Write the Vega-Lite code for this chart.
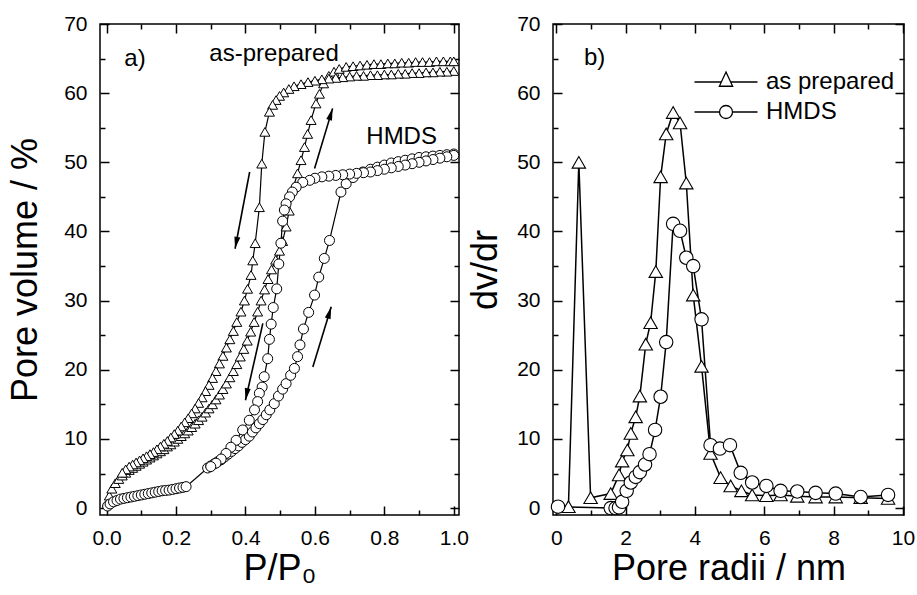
{
"$schema": "https://vega.github.io/schema/vega-lite/v6.json",
"padding": {"left": 6, "top": 12, "right": 0, "bottom": 2},
"config": {
  "view": {"stroke": "black", "strokeWidth": 1.5},
  "font": "Liberation Sans",
  "axis": {"domain": false, "grid": false, "tickColor": "black", "tickWidth": 1.5, "labelColor": "black", "titleColor": "black", "labelFont": "Liberation Sans", "titleFont": "Liberation Sans", "labelFontSize": 21, "titleFontSize": 36, "titleFontWeight": "normal", "labelFlush": false, "labelOverlap": false}
},
"datasets": {
  "iso": [
    {"s":"as prepared","b":"a","p":0.003,"v":0.8},{"s":"as prepared","b":"a","p":0.008,"v":1.8},{"s":"as prepared","b":"a","p":0.015,"v":2.8},{"s":"as prepared","b":"a","p":0.025,"v":3.6},{"s":"as prepared","b":"a","p":0.035,"v":4.2},{"s":"as prepared","b":"a","p":0.045,"v":4.7},{"s":"as prepared","b":"a","p":0.055,"v":5.1},{"s":"as prepared","b":"a","p":0.065,"v":5.5},{"s":"as prepared","b":"a","p":0.075,"v":5.8},{"s":"as prepared","b":"a","p":0.085,"v":6.1},{"s":"as prepared","b":"a","p":0.095,"v":6.4},{"s":"as prepared","b":"a","p":0.105,"v":6.7},{"s":"as prepared","b":"a","p":0.115,"v":7.0},{"s":"as prepared","b":"a","p":0.125,"v":7.3},{"s":"as prepared","b":"a","p":0.135,"v":7.6},{"s":"as prepared","b":"a","p":0.145,"v":7.9},{"s":"as prepared","b":"a","p":0.155,"v":8.2},{"s":"as prepared","b":"a","p":0.165,"v":8.5},{"s":"as prepared","b":"a","p":0.175,"v":8.9},{"s":"as prepared","b":"a","p":0.185,"v":9.2},{"s":"as prepared","b":"a","p":0.195,"v":9.6},{"s":"as prepared","b":"a","p":0.205,"v":10.0},{"s":"as prepared","b":"a","p":0.215,"v":10.4},{"s":"as prepared","b":"a","p":0.225,"v":10.8},{"s":"as prepared","b":"a","p":0.235,"v":11.2},{"s":"as prepared","b":"a","p":0.245,"v":11.7},{"s":"as prepared","b":"a","p":0.255,"v":12.2},{"s":"as prepared","b":"a","p":0.265,"v":12.7},{"s":"as prepared","b":"a","p":0.275,"v":13.2},{"s":"as prepared","b":"a","p":0.285,"v":13.8},{"s":"as prepared","b":"a","p":0.295,"v":14.4},{"s":"as prepared","b":"a","p":0.305,"v":15.0},{"s":"as prepared","b":"a","p":0.315,"v":15.7},{"s":"as prepared","b":"a","p":0.325,"v":16.4},{"s":"as prepared","b":"a","p":0.335,"v":17.2},{"s":"as prepared","b":"a","p":0.345,"v":18.0},{"s":"as prepared","b":"a","p":0.355,"v":18.9},{"s":"as prepared","b":"a","p":0.365,"v":19.8},{"s":"as prepared","b":"a","p":0.375,"v":20.8},{"s":"as prepared","b":"a","p":0.385,"v":21.9},{"s":"as prepared","b":"a","p":0.395,"v":23.0},{"s":"as prepared","b":"a","p":0.405,"v":24.2},{"s":"as prepared","b":"a","p":0.415,"v":25.5},{"s":"as prepared","b":"a","p":0.425,"v":26.9},{"s":"as prepared","b":"a","p":0.435,"v":28.4},{"s":"as prepared","b":"a","p":0.445,"v":30.0},{"s":"as prepared","b":"a","p":0.455,"v":31.6},{"s":"as prepared","b":"a","p":0.465,"v":33.1},{"s":"as prepared","b":"a","p":0.475,"v":34.5},{"s":"as prepared","b":"a","p":0.487,"v":35.9},{"s":"as prepared","b":"a","p":0.498,"v":37.2},{"s":"as prepared","b":"a","p":0.507,"v":38.6},{"s":"as prepared","b":"a","p":0.517,"v":40.7},{"s":"as prepared","b":"a","p":0.526,"v":43.0},{"s":"as prepared","b":"a","p":0.538,"v":46.4},{"s":"as prepared","b":"a","p":0.55,"v":48.4},{"s":"as prepared","b":"a","p":0.56,"v":50.3},{"s":"as prepared","b":"a","p":0.57,"v":52.2},{"s":"as prepared","b":"a","p":0.579,"v":54.1},{"s":"as prepared","b":"a","p":0.589,"v":56.1},{"s":"as prepared","b":"a","p":0.603,"v":58.5},{"s":"as prepared","b":"a","p":0.613,"v":59.9},{"s":"as prepared","b":"a","p":0.625,"v":61.4},{"s":"as prepared","b":"a","p":0.64,"v":62.5},{"s":"as prepared","b":"a","p":0.655,"v":63.1},{"s":"as prepared","b":"a","p":0.67,"v":63.5},{"s":"as prepared","b":"a","p":0.69,"v":63.8},{"s":"as prepared","b":"a","p":0.71,"v":63.9},{"s":"as prepared","b":"a","p":0.73,"v":64.0},{"s":"as prepared","b":"a","p":0.75,"v":64.1},{"s":"as prepared","b":"a","p":0.77,"v":64.2},{"s":"as prepared","b":"a","p":0.79,"v":64.2},{"s":"as prepared","b":"a","p":0.81,"v":64.3},{"s":"as prepared","b":"a","p":0.83,"v":64.3},{"s":"as prepared","b":"a","p":0.85,"v":64.4},{"s":"as prepared","b":"a","p":0.87,"v":64.4},{"s":"as prepared","b":"a","p":0.89,"v":64.5},{"s":"as prepared","b":"a","p":0.91,"v":64.5},{"s":"as prepared","b":"a","p":0.93,"v":64.5},{"s":"as prepared","b":"a","p":0.95,"v":64.6},{"s":"as prepared","b":"a","p":0.97,"v":64.6},{"s":"as prepared","b":"a","p":0.99,"v":64.6},{"s":"as prepared","b":"a","p":1.0,"v":64.6},
    {"s":"as prepared","b":"d","p":1.0,"v":63.2},{"s":"as prepared","b":"d","p":0.98,"v":63.1},{"s":"as prepared","b":"d","p":0.96,"v":63.1},{"s":"as prepared","b":"d","p":0.94,"v":63.0},{"s":"as prepared","b":"d","p":0.92,"v":63.0},{"s":"as prepared","b":"d","p":0.9,"v":62.9},{"s":"as prepared","b":"d","p":0.88,"v":62.9},{"s":"as prepared","b":"d","p":0.86,"v":62.8},{"s":"as prepared","b":"d","p":0.84,"v":62.8},{"s":"as prepared","b":"d","p":0.82,"v":62.7},{"s":"as prepared","b":"d","p":0.8,"v":62.7},{"s":"as prepared","b":"d","p":0.78,"v":62.6},{"s":"as prepared","b":"d","p":0.76,"v":62.6},{"s":"as prepared","b":"d","p":0.74,"v":62.5},{"s":"as prepared","b":"d","p":0.72,"v":62.5},{"s":"as prepared","b":"d","p":0.7,"v":62.4},{"s":"as prepared","b":"d","p":0.68,"v":62.3},{"s":"as prepared","b":"d","p":0.66,"v":62.2},{"s":"as prepared","b":"d","p":0.64,"v":62.1},{"s":"as prepared","b":"d","p":0.62,"v":62.0},{"s":"as prepared","b":"d","p":0.6,"v":61.8},{"s":"as prepared","b":"d","p":0.58,"v":61.6},{"s":"as prepared","b":"d","p":0.56,"v":61.3},{"s":"as prepared","b":"d","p":0.54,"v":61.0},{"s":"as prepared","b":"d","p":0.525,"v":60.6},{"s":"as prepared","b":"d","p":0.51,"v":60.1},{"s":"as prepared","b":"d","p":0.498,"v":59.6},{"s":"as prepared","b":"d","p":0.488,"v":59.0},{"s":"as prepared","b":"d","p":0.478,"v":58.3},{"s":"as prepared","b":"d","p":0.469,"v":57.3},{"s":"as prepared","b":"d","p":0.456,"v":54.4},{"s":"as prepared","b":"d","p":0.447,"v":49.8},{"s":"as prepared","b":"d","p":0.44,"v":43.5},{"s":"as prepared","b":"d","p":0.428,"v":38.3},{"s":"as prepared","b":"d","p":0.421,"v":35.8},{"s":"as prepared","b":"d","p":0.416,"v":33.7},{"s":"as prepared","b":"d","p":0.406,"v":31.7},{"s":"as prepared","b":"d","p":0.397,"v":30.0},{"s":"as prepared","b":"d","p":0.387,"v":28.4},{"s":"as prepared","b":"d","p":0.375,"v":26.9},{"s":"as prepared","b":"d","p":0.365,"v":25.6},{"s":"as prepared","b":"d","p":0.355,"v":24.4},{"s":"as prepared","b":"d","p":0.345,"v":23.2},{"s":"as prepared","b":"d","p":0.335,"v":22.0},{"s":"as prepared","b":"d","p":0.325,"v":20.9},{"s":"as prepared","b":"d","p":0.315,"v":19.8},{"s":"as prepared","b":"d","p":0.305,"v":18.8},{"s":"as prepared","b":"d","p":0.295,"v":17.8},{"s":"as prepared","b":"d","p":0.285,"v":16.9},{"s":"as prepared","b":"d","p":0.275,"v":16.0},{"s":"as prepared","b":"d","p":0.265,"v":15.2},{"s":"as prepared","b":"d","p":0.255,"v":14.4},{"s":"as prepared","b":"d","p":0.245,"v":13.7},{"s":"as prepared","b":"d","p":0.235,"v":13.0},{"s":"as prepared","b":"d","p":0.225,"v":12.4},{"s":"as prepared","b":"d","p":0.215,"v":11.8},{"s":"as prepared","b":"d","p":0.205,"v":11.2},{"s":"as prepared","b":"d","p":0.195,"v":10.7},{"s":"as prepared","b":"d","p":0.185,"v":10.2},{"s":"as prepared","b":"d","p":0.175,"v":9.7},{"s":"as prepared","b":"d","p":0.165,"v":9.3},{"s":"as prepared","b":"d","p":0.155,"v":8.9},{"s":"as prepared","b":"d","p":0.145,"v":8.5},{"s":"as prepared","b":"d","p":0.135,"v":8.1},{"s":"as prepared","b":"d","p":0.125,"v":7.8},{"s":"as prepared","b":"d","p":0.115,"v":7.5},{"s":"as prepared","b":"d","p":0.105,"v":7.2},{"s":"as prepared","b":"d","p":0.095,"v":6.9},{"s":"as prepared","b":"d","p":0.085,"v":6.6},{"s":"as prepared","b":"d","p":0.075,"v":6.3},{"s":"as prepared","b":"d","p":0.065,"v":6.0},{"s":"as prepared","b":"d","p":0.055,"v":5.6},{"s":"as prepared","b":"d","p":0.045,"v":5.1},
    {"s":"HMDS","b":"a","p":0.003,"v":0.3},{"s":"HMDS","b":"a","p":0.01,"v":0.6},{"s":"HMDS","b":"a","p":0.02,"v":0.9},{"s":"HMDS","b":"a","p":0.03,"v":1.1},{"s":"HMDS","b":"a","p":0.04,"v":1.3},{"s":"HMDS","b":"a","p":0.05,"v":1.4},{"s":"HMDS","b":"a","p":0.06,"v":1.5},{"s":"HMDS","b":"a","p":0.07,"v":1.6},{"s":"HMDS","b":"a","p":0.08,"v":1.7},{"s":"HMDS","b":"a","p":0.09,"v":1.8},{"s":"HMDS","b":"a","p":0.1,"v":1.9},{"s":"HMDS","b":"a","p":0.11,"v":2.0},{"s":"HMDS","b":"a","p":0.12,"v":2.1},{"s":"HMDS","b":"a","p":0.13,"v":2.2},{"s":"HMDS","b":"a","p":0.14,"v":2.3},{"s":"HMDS","b":"a","p":0.15,"v":2.4},{"s":"HMDS","b":"a","p":0.16,"v":2.5},{"s":"HMDS","b":"a","p":0.17,"v":2.55},{"s":"HMDS","b":"a","p":0.18,"v":2.6},{"s":"HMDS","b":"a","p":0.19,"v":2.7},{"s":"HMDS","b":"a","p":0.2,"v":2.8},{"s":"HMDS","b":"a","p":0.21,"v":2.9},{"s":"HMDS","b":"a","p":0.22,"v":3.0},{"s":"HMDS","b":"a","p":0.229,"v":3.1},{"s":"HMDS","b":"a","p":0.291,"v":5.8},{"s":"HMDS","b":"a","p":0.3,"v":6.1},{"s":"HMDS","b":"a","p":0.31,"v":6.4},{"s":"HMDS","b":"a","p":0.32,"v":6.7},{"s":"HMDS","b":"a","p":0.33,"v":7.0},{"s":"HMDS","b":"a","p":0.34,"v":7.4},{"s":"HMDS","b":"a","p":0.35,"v":7.8},{"s":"HMDS","b":"a","p":0.36,"v":8.2},{"s":"HMDS","b":"a","p":0.37,"v":8.6},{"s":"HMDS","b":"a","p":0.38,"v":9.0},{"s":"HMDS","b":"a","p":0.39,"v":9.5},{"s":"HMDS","b":"a","p":0.4,"v":9.9},{"s":"HMDS","b":"a","p":0.411,"v":10.4},{"s":"HMDS","b":"a","p":0.42,"v":11.0},{"s":"HMDS","b":"a","p":0.43,"v":11.6},{"s":"HMDS","b":"a","p":0.44,"v":12.2},{"s":"HMDS","b":"a","p":0.45,"v":12.8},{"s":"HMDS","b":"a","p":0.46,"v":13.5},{"s":"HMDS","b":"a","p":0.47,"v":14.2},{"s":"HMDS","b":"a","p":0.483,"v":15.1},{"s":"HMDS","b":"a","p":0.495,"v":16.2},{"s":"HMDS","b":"a","p":0.507,"v":17.2},{"s":"HMDS","b":"a","p":0.517,"v":18.0},{"s":"HMDS","b":"a","p":0.53,"v":19.2},{"s":"HMDS","b":"a","p":0.541,"v":20.2},{"s":"HMDS","b":"a","p":0.55,"v":21.9},{"s":"HMDS","b":"a","p":0.557,"v":23.6},{"s":"HMDS","b":"a","p":0.567,"v":25.9},{"s":"HMDS","b":"a","p":0.582,"v":28.3},{"s":"HMDS","b":"a","p":0.599,"v":30.8},{"s":"HMDS","b":"a","p":0.611,"v":33.4},{"s":"HMDS","b":"a","p":0.627,"v":36.1},{"s":"HMDS","b":"a","p":0.642,"v":38.7},{"s":"HMDS","b":"a","p":0.675,"v":45.7},{"s":"HMDS","b":"a","p":0.69,"v":46.9},{"s":"HMDS","b":"a","p":0.71,"v":47.8},{"s":"HMDS","b":"a","p":0.738,"v":48.6},{"s":"HMDS","b":"a","p":0.76,"v":49.0},{"s":"HMDS","b":"a","p":0.78,"v":49.3},{"s":"HMDS","b":"a","p":0.8,"v":49.6},{"s":"HMDS","b":"a","p":0.82,"v":49.9},{"s":"HMDS","b":"a","p":0.84,"v":50.1},{"s":"HMDS","b":"a","p":0.86,"v":50.3},{"s":"HMDS","b":"a","p":0.88,"v":50.5},{"s":"HMDS","b":"a","p":0.9,"v":50.7},{"s":"HMDS","b":"a","p":0.92,"v":50.8},{"s":"HMDS","b":"a","p":0.94,"v":50.9},{"s":"HMDS","b":"a","p":0.96,"v":51.0},{"s":"HMDS","b":"a","p":0.98,"v":51.1},{"s":"HMDS","b":"a","p":1.0,"v":51.2},
    {"s":"HMDS","b":"d","p":1.0,"v":51.0},{"s":"HMDS","b":"d","p":0.98,"v":50.8},{"s":"HMDS","b":"d","p":0.96,"v":50.6},{"s":"HMDS","b":"d","p":0.94,"v":50.4},{"s":"HMDS","b":"d","p":0.92,"v":50.2},{"s":"HMDS","b":"d","p":0.9,"v":50.0},{"s":"HMDS","b":"d","p":0.88,"v":49.8},{"s":"HMDS","b":"d","p":0.86,"v":49.6},{"s":"HMDS","b":"d","p":0.84,"v":49.4},{"s":"HMDS","b":"d","p":0.82,"v":49.2},{"s":"HMDS","b":"d","p":0.8,"v":49.0},{"s":"HMDS","b":"d","p":0.78,"v":48.8},{"s":"HMDS","b":"d","p":0.76,"v":48.6},{"s":"HMDS","b":"d","p":0.74,"v":48.5},{"s":"HMDS","b":"d","p":0.72,"v":48.4},{"s":"HMDS","b":"d","p":0.7,"v":48.3},{"s":"HMDS","b":"d","p":0.68,"v":48.2},{"s":"HMDS","b":"d","p":0.66,"v":48.1},{"s":"HMDS","b":"d","p":0.64,"v":48.0},{"s":"HMDS","b":"d","p":0.62,"v":47.9},{"s":"HMDS","b":"d","p":0.6,"v":47.7},{"s":"HMDS","b":"d","p":0.585,"v":47.4},{"s":"HMDS","b":"d","p":0.565,"v":47.1},{"s":"HMDS","b":"d","p":0.546,"v":46.4},{"s":"HMDS","b":"d","p":0.535,"v":45.7},{"s":"HMDS","b":"d","p":0.527,"v":45.0},{"s":"HMDS","b":"d","p":0.517,"v":44.0},{"s":"HMDS","b":"d","p":0.512,"v":43.1},{"s":"HMDS","b":"d","p":0.507,"v":41.5},{"s":"HMDS","b":"d","p":0.502,"v":38.3},{"s":"HMDS","b":"d","p":0.496,"v":35.3},{"s":"HMDS","b":"d","p":0.49,"v":31.7},{"s":"HMDS","b":"d","p":0.48,"v":29.0},{"s":"HMDS","b":"d","p":0.474,"v":26.6},{"s":"HMDS","b":"d","p":0.469,"v":24.4},{"s":"HMDS","b":"d","p":0.464,"v":21.6},{"s":"HMDS","b":"d","p":0.454,"v":19.0},{"s":"HMDS","b":"d","p":0.448,"v":17.5},{"s":"HMDS","b":"d","p":0.44,"v":16.6},{"s":"HMDS","b":"d","p":0.435,"v":15.4},{"s":"HMDS","b":"d","p":0.426,"v":14.2},{"s":"HMDS","b":"d","p":0.411,"v":12.7},{"s":"HMDS","b":"d","p":0.392,"v":11.3},{"s":"HMDS","b":"d","p":0.373,"v":9.8},{"s":"HMDS","b":"d","p":0.358,"v":8.8},{"s":"HMDS","b":"d","p":0.344,"v":7.9},{"s":"HMDS","b":"d","p":0.33,"v":7.1},{"s":"HMDS","b":"d","p":0.315,"v":6.5},{"s":"HMDS","b":"d","p":0.3,"v":6.0}
  ],
  "psd": [
    {"s":"as prepared","r":0.35,"d":0.2},{"s":"as prepared","r":0.65,"d":50.0},{"s":"as prepared","r":0.99,"d":1.5},{"s":"as prepared","r":1.57,"d":2.1},{"s":"as prepared","r":1.81,"d":4.8},{"s":"as prepared","r":1.9,"d":6.8},{"s":"as prepared","r":2.05,"d":8.4},{"s":"as prepared","r":2.15,"d":10.8},{"s":"as prepared","r":2.29,"d":13.2},{"s":"as prepared","r":2.41,"d":16.2},{"s":"as prepared","r":2.58,"d":23.7},{"s":"as prepared","r":2.72,"d":26.8},{"s":"as prepared","r":2.87,"d":34.2},{"s":"as prepared","r":3.01,"d":47.9},{"s":"as prepared","r":3.17,"d":54.1},{"s":"as prepared","r":3.37,"d":57.2},{"s":"as prepared","r":3.57,"d":55.7},{"s":"as prepared","r":3.75,"d":47.0},{"s":"as prepared","r":3.95,"d":30.8},{"s":"as prepared","r":4.19,"d":20.5},{"s":"as prepared","r":4.45,"d":7.9},{"s":"as prepared","r":4.74,"d":4.4},{"s":"as prepared","r":5.03,"d":3.2},{"s":"as prepared","r":5.34,"d":2.5},{"s":"as prepared","r":5.65,"d":1.9},{"s":"as prepared","r":6.06,"d":1.8},{"s":"as prepared","r":6.47,"d":1.9},{"s":"as prepared","r":6.95,"d":1.7},{"s":"as prepared","r":7.48,"d":1.6},{"s":"as prepared","r":8.06,"d":1.6},{"s":"as prepared","r":8.78,"d":1.5},{"s":"as prepared","r":9.57,"d":1.4},
    {"s":"HMDS","r":0.05,"d":0.2},{"s":"HMDS","r":1.57,"d":0.0},{"s":"HMDS","r":1.71,"d":0.0},{"s":"HMDS","r":1.81,"d":0.1},{"s":"HMDS","r":1.9,"d":0.9},{"s":"HMDS","r":2.03,"d":2.5},{"s":"HMDS","r":2.15,"d":3.7},{"s":"HMDS","r":2.29,"d":4.5},{"s":"HMDS","r":2.41,"d":5.2},{"s":"HMDS","r":2.56,"d":6.3},{"s":"HMDS","r":2.69,"d":7.8},{"s":"HMDS","r":2.85,"d":11.3},{"s":"HMDS","r":3.01,"d":16.1},{"s":"HMDS","r":3.17,"d":24.0},{"s":"HMDS","r":3.37,"d":41.1},{"s":"HMDS","r":3.57,"d":40.1},{"s":"HMDS","r":3.75,"d":36.2},{"s":"HMDS","r":3.95,"d":35.0},{"s":"HMDS","r":4.19,"d":27.3},{"s":"HMDS","r":4.45,"d":9.1},{"s":"HMDS","r":4.72,"d":8.6},{"s":"HMDS","r":5.01,"d":9.1},{"s":"HMDS","r":5.32,"d":5.1},{"s":"HMDS","r":5.65,"d":3.7},{"s":"HMDS","r":6.06,"d":3.2},{"s":"HMDS","r":6.47,"d":2.5},{"s":"HMDS","r":6.95,"d":2.4},{"s":"HMDS","r":7.48,"d":2.2},{"s":"HMDS","r":8.06,"d":2.1},{"s":"HMDS","r":8.78,"d":1.6},{"s":"HMDS","r":9.57,"d":1.9}
  ],
  "arrows": [
    {"x":0.412,"y":48.6,"x2":0.37,"y2":37.5,"dir":"down"},
    {"x":0.599,"y":49.1,"x2":0.651,"y2":57.8,"dir":"up"},
    {"x":0.45,"y":26.7,"x2":0.4,"y2":15.6,"dir":"down"},
    {"x":0.594,"y":20.4,"x2":0.647,"y2":29.1,"dir":"up"}
  ],
  "lblA": [
    {"x":0.051,"y":65.0,"t":"a)"},
    {"x":0.296,"y":65.7,"t":"as-prepared"},
    {"x":0.748,"y":53.7,"t":"HMDS"}
  ],
  "lblB": [
    {"x":0.8,"y":65.1,"t":"b)"}
  ]
},
"hconcat": [
  {
    "width": 359, "height": 491,
    "resolve": {"axis": {"x": "independent", "y": "independent"}},
    "layer": [
      {
        "data": {"name": "iso"},
        "mark": {"type": "line", "color": "black", "strokeWidth": 1.2},
        "encoding": {
          "x": {"field": "p", "type": "quantitative", "scale": {"domain": [-0.019, 1.015], "nice": false, "zero": false},
                "axis": {"orient": "bottom", "values": [0, 0.2, 0.4, 0.6, 0.8, 1.0], "format": ".1f", "tickSize": -9, "labelPadding": 21, "title": "P/P₀", "titlePadding": 3}},
          "y": {"field": "v", "type": "quantitative", "scale": {"domain": [-1, 70], "nice": false, "zero": false},
                "axis": {"orient": "left", "values": [0, 10, 20, 30, 40, 50, 60, 70], "tickSize": -9, "labelPadding": 22, "title": "Pore volume / %", "titlePadding": 19}},
          "detail": [{"field": "s"}, {"field": "b"}]
        }
      },
      {
        "data": {"name": "iso"},
        "mark": {"type": "point", "filled": true, "fill": "white", "stroke": "black", "strokeWidth": 1, "opacity": 1, "size": 100},
        "encoding": {
          "x": {"field": "p", "type": "quantitative", "scale": {"domain": [-0.019, 1.015], "nice": false, "zero": false},
                "axis": {"orient": "bottom", "values": [0.1, 0.3, 0.5, 0.7, 0.9], "tickSize": -5, "labels": false, "title": null}},
          "y": {"field": "v", "type": "quantitative", "scale": {"domain": [-1, 70], "nice": false, "zero": false},
                "axis": {"orient": "left", "values": [5, 15, 25, 35, 45, 55, 65], "tickSize": -5, "labels": false, "title": null}},
          "shape": {"field": "s", "type": "nominal", "scale": {"domain": ["as prepared", "HMDS"], "range": ["triangle-up", "circle"]}, "legend": null}
        }
      },
      {
        "data": {"name": "arrows"},
        "mark": {"type": "rule", "color": "black", "strokeWidth": 1.6},
        "encoding": {
          "x": {"field": "x", "type": "quantitative", "axis": {"orient": "top", "values": [0, 0.2, 0.4, 0.6, 0.8, 1.0], "tickSize": -9, "labels": false, "title": null}},
          "y": {"field": "y", "type": "quantitative", "axis": {"orient": "right", "values": [0, 10, 20, 30, 40, 50, 60, 70], "tickSize": -9, "labels": false, "title": null}},
          "x2": {"field": "x2"},
          "y2": {"field": "y2"}
        }
      },
      {
        "data": {"name": "arrows"},
        "transform": [{"filter": "datum.dir == 'up'"}],
        "mark": {"type": "point", "shape": "M0,0L0.4,1.6L-0.4,1.6Z", "filled": true, "color": "black", "opacity": 1, "size": 225, "angle": 17},
        "encoding": {
          "x": {"field": "x2", "type": "quantitative", "axis": {"orient": "top", "values": [0.1, 0.3, 0.5, 0.7, 0.9], "tickSize": -5, "labels": false, "title": null}},
          "y": {"field": "y2", "type": "quantitative", "axis": {"orient": "right", "values": [5, 15, 25, 35, 45, 55, 65], "tickSize": -5, "labels": false, "title": null}}
        }
      },
      {
        "data": {"name": "arrows"},
        "transform": [{"filter": "datum.dir == 'down'"}],
        "mark": {"type": "point", "shape": "M0,0L0.4,1.6L-0.4,1.6Z", "filled": true, "color": "black", "opacity": 1, "size": 225, "angle": 191},
        "encoding": {
          "x": {"field": "x2", "type": "quantitative", "axis": null},
          "y": {"field": "y2", "type": "quantitative", "axis": null}
        }
      },
      {
        "data": {"name": "lblA"},
        "mark": {"type": "text", "font": "Liberation Sans", "fontSize": 24, "align": "left", "baseline": "middle", "color": "black"},
        "encoding": {
          "x": {"field": "x", "type": "quantitative", "axis": null},
          "y": {"field": "y", "type": "quantitative", "axis": null},
          "text": {"field": "t"}
        }
      }
    ]
  },
  {
    "width": 351, "height": 491,
    "resolve": {"axis": {"x": "independent", "y": "independent"}, "scale": {"shape": "independent"}},
    "layer": [
      {
        "data": {"name": "psd"},
        "mark": {"type": "line", "color": "black", "strokeWidth": 1.5},
        "encoding": {
          "x": {"field": "r", "type": "quantitative", "scale": {"domain": [-0.095, 10.03], "nice": false, "zero": false},
                "axis": {"orient": "bottom", "values": [0, 2, 4, 6, 8, 10], "tickSize": -9, "labelPadding": 21, "title": "Pore radii / nm", "titlePadding": 3}},
          "y": {"field": "d", "type": "quantitative", "scale": {"domain": [-1, 70], "nice": false, "zero": false},
                "axis": {"orient": "left", "values": [0, 10, 20, 30, 40, 50, 60, 70], "tickSize": -9, "labelPadding": 22, "title": "dv/dr", "titlePadding": 12}},
          "detail": {"field": "s"}
        }
      },
      {
        "data": {"name": "psd"},
        "mark": {"type": "point", "filled": true, "fill": "white", "stroke": "black", "strokeWidth": 1.1, "opacity": 1, "size": 180},
        "encoding": {
          "x": {"field": "r", "type": "quantitative", "scale": {"domain": [-0.095, 10.03], "nice": false, "zero": false},
                "axis": {"orient": "bottom", "values": [1, 3, 5, 7, 9], "tickSize": -5, "labels": false, "title": null}},
          "y": {"field": "d", "type": "quantitative", "scale": {"domain": [-1, 70], "nice": false, "zero": false},
                "axis": {"orient": "left", "values": [5, 15, 25, 35, 45, 55, 65], "tickSize": -5, "labels": false, "title": null}},
          "shape": {"field": "s", "type": "nominal", "scale": {"domain": ["as prepared", "HMDS"], "range": ["triangle-up", "circle"]}, "legend": null}
        }
      },
      {
        "data": {"name": "psd"},
        "transform": [{"filter": "false"}],
        "mark": {"type": "point", "filled": false, "color": "black", "stroke": "black", "strokeWidth": 1.3, "opacity": 1, "size": 196},
        "encoding": {
          "x": {"field": "r", "type": "quantitative", "axis": null},
          "y": {"field": "d", "type": "quantitative", "axis": null},
          "shape": {"field": "s", "type": "nominal",
                    "scale": {"domain": ["as prepared", "HMDS"], "range": ["M-4.5,0L-0.666,0M0.666,0L4.5,0M0,-1.43L0.95,0.61L-0.95,0.61Z", "M-4.5,0L-0.93,0M0.93,0L4.5,0M0.93,0A0.93,0.93,0,1,1,-0.93,0A0.93,0.93,0,1,1,0.93,0Z"]},
                    "legend": {"orient": "none", "legendX": 161, "legendY": 46, "title": null, "padding": 0, "symbolSize": 196, "symbolStrokeWidth": 1.3, "symbolStrokeColor": "black", "symbolOpacity": 1, "labelFontSize": 24, "labelFont": "Liberation Sans", "labelColor": "black", "labelOffset": 28, "rowPadding": 6}}
        }
      },
      {
        "data": {"name": "lblB"},
        "mark": {"type": "text", "font": "Liberation Sans", "fontSize": 24, "align": "left", "baseline": "middle", "color": "black"},
        "encoding": {
          "x": {"field": "x", "type": "quantitative", "axis": {"orient": "top", "values": [0, 2, 4, 6, 8, 10], "tickSize": -9, "labels": false, "title": null}},
          "y": {"field": "y", "type": "quantitative", "axis": {"orient": "right", "values": [0, 10, 20, 30, 40, 50, 60, 70], "tickSize": -9, "labels": false, "title": null}},
          "text": {"field": "t"}
        }
      },
      {
        "data": {"name": "lblB"},
        "mark": {"type": "point", "opacity": 0},
        "encoding": {
          "x": {"field": "x", "type": "quantitative", "axis": {"orient": "top", "values": [1, 3, 5, 7, 9], "tickSize": -5, "labels": false, "title": null}},
          "y": {"field": "y", "type": "quantitative", "axis": {"orient": "right", "values": [5, 15, 25, 35, 45, 55, 65], "tickSize": -5, "labels": false, "title": null}}
        }
      }
    ]
  }
],
"spacing": 94,
"bounds": "flush",
"resolve": {"scale": {"x": "independent", "y": "independent", "shape": "independent"}, "legend": {"shape": "independent"}}
}
